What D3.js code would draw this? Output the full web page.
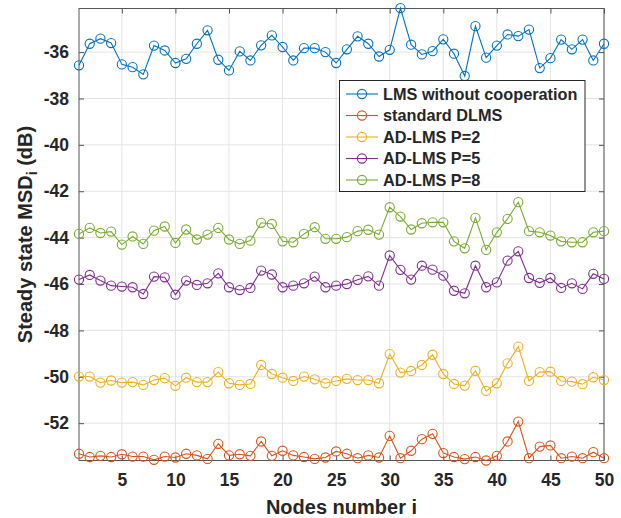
<!DOCTYPE html>
<html><head><meta charset="utf-8">
<script src="https://cdn.jsdelivr.net/npm/d3@7"></script>
<style>
body{margin:0;background:#fff;}
svg text{font-family:"Liberation Sans",Arial,Helvetica,sans-serif;font-weight:bold;fill:#262626;}
</style></head>
<body><svg id="chart" width="621" height="518"></svg>
<script>
const nodes = d3.range(1, 51);
const seriesNames = ["LMS without cooperation","standard DLMS","AD-LMS P=2","AD-LMS P=5","AD-LMS P=8"];
const seriesColors = ["#0072BD","#D95319","#EDB120","#7E2F8E","#77AC30"];
const lmsNoCoop = [-36.57,-35.64,-35.42,-35.61,-36.53,-36.65,-36.96,-35.72,-35.93,-36.47,
  -36.29,-35.64,-35.06,-36.33,-36.79,-35.97,-36.36,-35.71,-35.28,-35.78,
  -36.36,-35.83,-35.83,-36.00,-36.47,-35.88,-35.32,-35.64,-36.19,-35.90,
  -34.10,-35.68,-36.10,-35.96,-35.45,-36.07,-37.03,-34.88,-36.24,-35.72,
  -35.24,-35.31,-35.03,-36.69,-36.26,-35.46,-35.88,-35.46,-36.36,-35.64];
const standardDLMS = [-53.32,-53.46,-53.41,-53.46,-53.34,-53.44,-53.44,-53.58,-53.44,-53.48,
  -53.32,-53.39,-53.54,-52.89,-53.39,-53.34,-53.41,-52.79,-53.41,-53.19,
  -53.39,-53.46,-53.54,-53.48,-53.22,-53.32,-53.51,-53.39,-53.48,-52.55,
  -53.51,-53.19,-52.69,-52.46,-53.29,-53.46,-53.55,-53.46,-53.61,-53.41,
  -52.79,-51.93,-53.51,-53.01,-52.96,-53.51,-53.44,-53.51,-53.25,-53.51];
const adlmsP2 = [-49.99,-49.99,-50.25,-50.16,-50.25,-50.23,-50.35,-50.14,-50.06,-50.39,
  -50.04,-50.23,-50.23,-49.80,-50.28,-50.35,-50.31,-49.49,-49.88,-50.04,
  -50.18,-49.99,-50.11,-50.28,-50.18,-50.09,-50.14,-50.14,-50.28,-49.02,
  -49.82,-49.75,-49.49,-49.05,-49.88,-50.31,-50.38,-49.74,-50.61,-50.28,
  -49.42,-48.70,-50.18,-49.80,-49.78,-50.18,-50.21,-50.32,-50.02,-50.14];
const adlmsP5 = [-45.81,-45.61,-45.85,-46.07,-46.11,-46.14,-46.43,-45.68,-45.71,-46.46,
  -45.85,-46.04,-45.97,-45.54,-46.14,-46.26,-46.17,-45.42,-45.59,-46.14,
  -46.07,-45.97,-45.68,-46.14,-46.07,-46.00,-45.82,-45.67,-46.07,-44.77,
  -45.39,-45.81,-45.21,-45.38,-45.64,-46.29,-46.40,-45.21,-46.14,-45.93,
  -44.99,-44.59,-45.74,-45.95,-45.74,-46.17,-45.97,-46.21,-45.56,-45.78];
const adlmsP8 = [-43.84,-43.58,-43.80,-43.74,-44.30,-43.95,-44.27,-43.70,-43.52,-44.23,
  -43.65,-44.08,-43.87,-43.58,-44.08,-44.27,-44.13,-43.36,-43.41,-44.16,
  -44.20,-43.84,-43.55,-44.05,-44.05,-43.98,-43.72,-43.66,-43.87,-42.69,
  -43.09,-43.65,-43.38,-43.34,-43.34,-44.16,-44.46,-43.15,-44.53,-43.77,
  -43.19,-42.47,-43.72,-43.77,-43.91,-44.16,-44.20,-44.20,-43.77,-43.72];
const xTicks = [5,10,15,20,25,30,35,40,45,50];
const yTicks = [-52,-50,-48,-46,-44,-42,-40,-38,-36];
const xLabel = "Nodes number i";

const allSeries = [lmsNoCoop, standardDLMS, adlmsP2, adlmsP5, adlmsP8];

const L = 79, R = 604, T = 8.5, B = 460.5;
const svg = d3.select("#chart");
const x = d3.scaleLinear().domain([1, 50]).range([L, R]);
const y = d3.scaleLinear().domain([-53.61, -34.12]).range([B, T]);

// grid
const g = svg.append("g");
g.selectAll(".vg").data(xTicks).join("line")
  .attr("x1", d => x(d)).attr("x2", d => x(d)).attr("y1", T).attr("y2", B)
  .attr("stroke", "#e3e3e3").attr("stroke-width", 1);
g.selectAll(".hg").data(yTicks).join("line")
  .attr("x1", L).attr("x2", R).attr("y1", d => y(d)).attr("y2", d => y(d))
  .attr("stroke", "#e3e3e3").attr("stroke-width", 1);

// axes
const axCol = "#555";
const xAxisB = d3.axisBottom(x).tickValues(xTicks).tickSizeInner(-5).tickSizeOuter(0).tickPadding(13);
const xAxisT = d3.axisTop(x).tickValues(xTicks).tickSizeInner(-5).tickSizeOuter(0).tickFormat("");
const yAxisL = d3.axisLeft(y).tickValues(yTicks).tickSizeInner(-5).tickSizeOuter(0).tickPadding(10);
const yAxisR = d3.axisRight(y).tickValues(yTicks).tickSizeInner(-5).tickSizeOuter(0).tickFormat("");

function styleAxis(sel){
  sel.select(".domain").remove();
  sel.selectAll(".tick line").attr("stroke", axCol);
  sel.selectAll(".tick text").attr("font-size", 17.5).attr("fill", "#262626")
    .style("font-family", '"Liberation Sans",Arial,sans-serif').style("font-weight", "bold");
}
svg.append("g").attr("transform", `translate(0,${B})`).call(xAxisB).call(styleAxis);
svg.append("g").attr("transform", `translate(0,${T})`).call(xAxisT).call(styleAxis);
svg.append("g").attr("transform", `translate(${L},0)`).call(yAxisL).call(styleAxis);
svg.append("g").attr("transform", `translate(${R},0)`).call(yAxisR).call(styleAxis);
svg.selectAll(".tick text").text(function(){ return this.textContent.replace("\u2212", "-"); });

svg.append("rect").attr("x", L).attr("y", T).attr("width", R - L).attr("height", B - T)
  .attr("fill", "none").attr("stroke", axCol).attr("stroke-width", 1);

// series
const line = d3.line().x((d, i) => x(nodes[i])).y(d => y(d));
allSeries.forEach((s, k) => {
  svg.append("path").datum(s).attr("d", line).attr("fill", "none")
    .attr("stroke", seriesColors[k]).attr("stroke-width", 1.1);
  svg.append("g").selectAll("circle").data(s).join("circle")
    .attr("cx", (d, i) => x(nodes[i])).attr("cy", d => y(d)).attr("r", 4.6)
    .attr("fill", "none").attr("stroke", seriesColors[k]).attr("stroke-width", 1.1);
});

// labels
svg.append("text").attr("x", (L + R) / 2).attr("y", 514).attr("text-anchor", "middle")
  .attr("font-size", 20).text(xLabel);
const yl = svg.append("text").attr("transform", `translate(32,${(T + B) / 2}) rotate(-90)`)
  .attr("text-anchor", "middle").attr("font-size", 20);
yl.append("tspan").text("Steady state MSD");
yl.append("tspan").attr("font-size", 14).attr("dy", 5).text("i");
yl.append("tspan").attr("dy", -5).text(" (dB)");

// legend
const lg = svg.append("g");
lg.append("rect").attr("x", 339.5).attr("y", 80.5).attr("width", 245.5).attr("height", 111)
  .attr("fill", "#fff").attr("stroke", "#262626").attr("stroke-width", 1);
seriesNames.forEach((n, k) => {
  const yy = 94 + k * 21.5;
  lg.append("line").attr("x1", 346).attr("x2", 378).attr("y1", yy).attr("y2", yy)
    .attr("stroke", seriesColors[k]).attr("stroke-width", 1.1);
  lg.append("circle").attr("cx", 362).attr("cy", yy).attr("r", 4.6)
    .attr("fill", "none").attr("stroke", seriesColors[k]).attr("stroke-width", 1.1);
  lg.append("text").attr("x", 383).attr("y", yy).attr("dy", "0.36em")
    .attr("font-size", 16.3).text(n);
});
</script></body></html>
